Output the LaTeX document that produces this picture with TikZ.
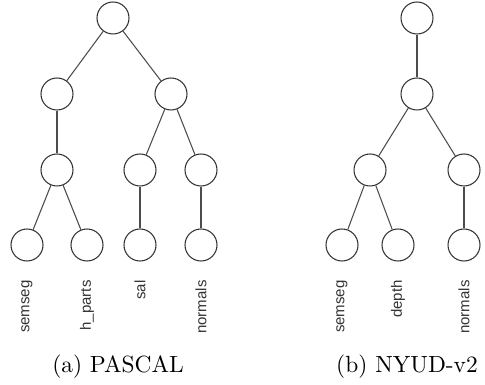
\documentclass[tikz,border=0pt]{standalone}
\usepackage{fontspec}
\newfontfamily\labelfont{Liberation Sans}
\tikzset{
  task/.style={circle, draw=black!80, line width=0.45pt, minimum size=0.48cm, inner sep=0pt},
  link/.style={draw=black!70, line width=0.45pt},
  tasklabel/.style={rotate=90, anchor=east, inner sep=0pt, text=black!80,
    font=\labelfont\fontsize{6.4}{7}\selectfont},
  caption/.style={inner sep=0pt, font=\normalsize}
}
\begin{document}
\begin{tikzpicture}[x=0.015cm, y=-0.015cm]
  \useasboundingbox (0,0) rectangle (485,385);
  % (a) PASCAL
  \begin{scope}
    \node[task] (p0) at (113,18) {};
    \node[task] (p1) at (57,94) {};
    \node[task] (p2) at (171,94) {};
    \node[task] (p3) at (57,170) {};
    \node[task] (p4) at (140,170) {};
    \node[task] (p5) at (201,170) {};
    \node[task] (p6) at (27,245) {};
    \node[task] (p7) at (87,245) {};
    \node[task] (p8) at (140,245) {};
    \node[task] (p9) at (201,245) {};
    \foreach \a/\b in {p0/p1, p0/p2, p1/p3, p2/p4, p2/p5, p3/p6, p3/p7, p4/p8, p5/p9}
      \draw[link] (\a) -- (\b);
    \node[tasklabel] (l6) at (27,280) {semseg};
    \node[tasklabel] (l7) at (87,280) {h\_parts};
    \node[tasklabel] (l8) at (140,280) {sal};
    \node[tasklabel] (l9) at (201,280) {normals};
    \node[caption] (capa) at (118,367) {(a) PASCAL};
  \end{scope}
  % (b) NYUD-v2
  \begin{scope}
    \node[task] (n0) at (417,18) {};
    \node[task] (n1) at (417,94) {};
    \node[task] (n2) at (370,170) {};
    \node[task] (n3) at (464,170) {};
    \node[task] (n4) at (342,245) {};
    \node[task] (n5) at (398,245) {};
    \node[task] (n6) at (464,245) {};
    \foreach \a/\b in {n0/n1, n1/n2, n1/n3, n2/n4, n2/n5, n3/n6}
      \draw[link] (\a) -- (\b);
    \node[tasklabel] (m4) at (342,280) {semseg};
    \node[tasklabel] (m5) at (398,280) {depth};
    \node[tasklabel] (m6) at (464,280) {normals};
    \node[caption] (capb) at (407,367) {(b) NYUD-v2};
  \end{scope}
\end{tikzpicture}
\end{document}
